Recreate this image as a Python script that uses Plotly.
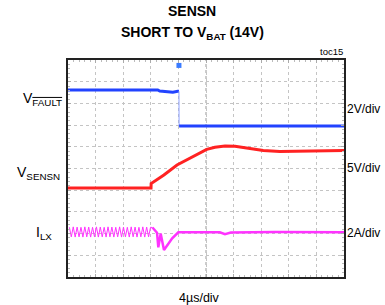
import plotly.graph_objects as go

# ---- data (time in microseconds, vertical position in screen divisions) ----
fault_t = [0.0, 13.0, 13.3, 14.2, 15.2, 15.9, 16.08, 16.1, 25.0, 40.0]
fault_v = [8.62, 8.62, 8.57, 8.54, 8.52, 8.56, 8.56, 6.96, 6.95, 6.96]
fault_step = 6  # index where the falling edge starts

sensn_t = [0.0, 12.03, 12.05, 13.9, 15.8, 17.7, 19.1, 20.1, 21.3, 22.75, 24.2, 26.4, 28.3, 30.7, 33.6, 36.5, 40.0]
sensn_v = [4.10, 4.10, 4.31, 4.70, 5.16, 5.48, 5.71, 5.88, 5.98, 6.04, 6.02, 5.92, 5.83, 5.78, 5.79, 5.82, 5.83]

ilx_t = [0.20, 0.48, 0.76, 1.04, 1.32, 1.60, 1.88, 2.16, 2.44, 2.72, 3.00, 3.28, 3.56, 3.84,
         4.12, 4.40, 4.68, 4.96, 5.24, 5.52, 5.80, 6.08, 6.36, 6.64, 6.92, 7.20, 7.48, 7.76,
         8.04, 8.32, 8.60, 8.88, 9.16, 9.44, 9.72, 10.00, 10.28, 10.56, 10.84, 11.12, 11.40,
         11.68, 11.96, 12.24,
         12.90, 13.09, 13.43, 13.91, 14.40, 15.10, 15.99, 22.0, 22.75, 23.6, 30.0, 40.0]
ilx_v = [2.29, 1.85, 2.31, 1.84, 2.30, 1.85, 2.29, 1.84, 2.31, 1.85, 2.30, 1.84, 2.29, 1.85,
         2.31, 1.84, 2.30, 1.85, 2.29, 1.84, 2.31, 1.85, 2.30, 1.84, 2.29, 1.85, 2.31, 1.84,
         2.30, 1.85, 2.29, 1.84, 2.31, 1.85, 2.30, 1.84, 2.29, 1.85, 2.31, 1.84, 2.30,
         1.85, 2.29, 2.28,
         2.04, 1.37, 2.00, 1.24, 1.45, 1.78, 2.06, 2.06, 1.97, 2.05, 2.07, 2.06]
zigzag_end = 44

trigger_t = [16.08]
trigger_v = [9.75]

left_labels = ["V<sub><span style=\"text-decoration:overline\">FAULT</span></sub>",
               "V<sub>SENSN</sub>", "I<sub>LX</sub>"]
right_labels = ["2V/div", "5V/div", "2A/div"]
time_label = "4µs/div"
title1 = "<b>SENSN</b>"
title2 = "<b>SHORT TO V<sub>BAT</sub> (14V)</b>"
note = "toc15"

FONT = "Liberation Sans, Arial, sans-serif"
BLUE = "#2243ff"
RED = "#ff2222"
MAGENTA = "#ff33ff"

fig = go.Figure()
fig.add_trace(go.Scatter(x=fault_t[:fault_step + 1], y=fault_v[:fault_step + 1], mode="lines",
                         line=dict(color=BLUE, width=3), hoverinfo="skip"))
fig.add_trace(go.Scatter(x=fault_t[fault_step:fault_step + 2], y=fault_v[fault_step:fault_step + 2],
                         mode="lines", line=dict(color="#8fa2ff", width=1), hoverinfo="skip"))
fig.add_trace(go.Scatter(x=fault_t[fault_step + 1:], y=fault_v[fault_step + 1:], mode="lines",
                         line=dict(color=BLUE, width=3), hoverinfo="skip"))
fig.add_trace(go.Scatter(x=sensn_t, y=sensn_v, mode="lines",
                         line=dict(color=RED, width=3), hoverinfo="skip"))
fig.add_trace(go.Scatter(x=ilx_t[:zigzag_end], y=ilx_v[:zigzag_end], mode="lines",
                         line=dict(color=MAGENTA, width=1), hoverinfo="skip"))
fig.add_trace(go.Scatter(x=ilx_t[zigzag_end - 1:], y=ilx_v[zigzag_end - 1:], mode="lines",
                         line=dict(color=MAGENTA, width=2.5), hoverinfo="skip"))
fig.add_trace(go.Scatter(x=trigger_t, y=trigger_v, mode="markers",
                         marker=dict(symbol="square", size=5, color="#3a7bff"), hoverinfo="skip"))

# center cross lines
fig.add_shape(type="line", xref="x", yref="y", x0=20, x1=20, y0=0, y1=10,
              line=dict(color="#999999", width=1, dash="dot"), layer="below")
fig.add_shape(type="line", xref="x", yref="y", x0=0, x1=40, y0=5, y1=5,
              line=dict(color="#999999", width=1, dash="dot"), layer="below")

axis_common = dict(showgrid=True, gridcolor="#c4c4c4", griddash="dot", gridwidth=1,
                   zeroline=False, showticklabels=False, showline=True, mirror="ticks",
                   linecolor="#222222", linewidth=2, ticks="inside", ticklen=3,
                   tickcolor="#aaaaaa", fixedrange=True)
fig.update_xaxes(range=[0, 40], dtick=4, tick0=0,
                 minor=dict(dtick=0.8, ticks="inside", ticklen=2, tickcolor="#bbbbbb", showgrid=False),
                 **axis_common)
fig.update_yaxes(range=[0, 10], dtick=1, tick0=0,
                 minor=dict(dtick=0.2, ticks="inside", ticklen=2, tickcolor="#bbbbbb", showgrid=False),
                 **axis_common)

def xp(px):
    return (px - 68) / 276.0

def yp(py):
    return (277 - py) / 217.0

ann = []
ann.append(dict(text=title1, x=xp(192), y=yp(11.5), xanchor="center", yanchor="middle",
                font=dict(size=14, family=FONT, color="black")))
ann.append(dict(text=title2, x=xp(192), y=yp(32.5), xanchor="center", yanchor="middle",
                font=dict(size=14, family=FONT, color="black")))
ann.append(dict(text=note, x=xp(345), y=yp(51), xanchor="right", yanchor="middle",
                font=dict(size=9.5, family=FONT, color="black")))
for lbl, py in zip(right_labels, [109, 168, 232.5]):
    ann.append(dict(text=lbl, x=xp(345), y=yp(py), xanchor="left", yanchor="middle",
                    font=dict(size=12, family=FONT, color="black")))
for lbl, px, py in zip(left_labels, [21, 15, 34], [99, 173, 233]):
    ann.append(dict(text=lbl, x=xp(px), y=yp(py), xanchor="left", yanchor="middle",
                    font=dict(size=14, family=FONT, color="black")))
ann.append(dict(text=time_label, x=xp(199), y=yp(298), xanchor="center", yanchor="middle",
                font=dict(size=12.5, family=FONT, color="black")))
for a in ann:
    a.update(xref="paper", yref="paper", showarrow=False)

fig.update_layout(width=385, height=305, margin=dict(l=68, r=41, t=60, b=28),
                  plot_bgcolor="white", paper_bgcolor="white", showlegend=False,
                  annotations=ann, font=dict(family=FONT))

# remove the default 8px page margin so the figure fills the 385x305 window exactly
fig.write_html("out.html", config={"displayModeBar": False},
               post_script="document.body.style.margin='0px';")
